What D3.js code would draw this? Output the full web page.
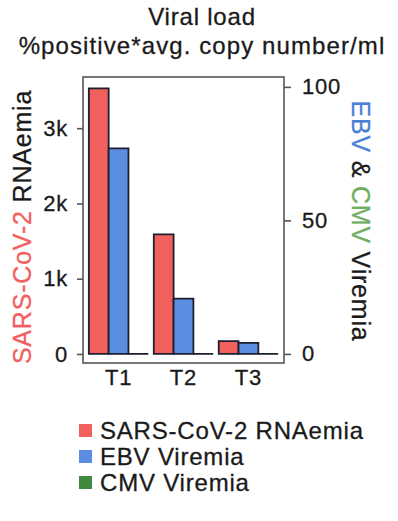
<!DOCTYPE html>
<html>
<head>
<meta charset="utf-8">
<script src="https://cdn.jsdelivr.net/npm/d3@7"></script>
<style>
  body { margin: 0; background: #fff; }
  text { font-family: "Liberation Sans", Arial, Helvetica, sans-serif; }
</style>
</head>
<body>
<div id="chart"></div>
<script>
(function () {
    var width = 398,
        height = 521;

    // data
    var timepoints = ["T1", "T2", "T3"];
    var series = ["SARS-CoV-2 RNAemia", "EBV Viremia", "CMV Viremia"];
    var sarsValues = [3530, 1590, 170];   // left axis
    var ebvValues = [77, 20.7, 4.1];      // right axis
    var cmvValues = [0, 0, 0];            // right axis
    var leftTicks = [0, 1000, 2000, 3000];
    var leftTickLabels = ["0", "1k", "2k", "3k"];
    var rightTicks = [0, 50, 100];

    var colors = { sars: "#f2605d", ebv: "#5b8de3", cmv: "#3f8a3f" };

    var panel = { left: 83, right: 284, top: 77, bottom: 363 };

    var svg = d3.select("#chart")
        .append("svg")
        .attr("width", width)
        .attr("height", height);

    var yLeft = d3.scaleLinear().domain([-120, 3680]).range([panel.bottom, panel.top]);
    var yRight = d3.scaleLinear().domain([-3.4, 103.7]).range([panel.bottom, panel.top]);

    var x0 = d3.scaleBand().domain(timepoints)
        .range([panel.left, panel.right])
        .paddingInner(0.085).paddingOuter(0.09);
    var x1 = d3.scaleBand().domain(["sars", "ebv", "cmv"])
        .range([0, x0.bandwidth()]);

    var rows = timepoints.map(function (t, i) {
        return [
            { t: t, key: "sars", v: sarsValues[i], y: yLeft },
            { t: t, key: "ebv", v: ebvValues[i], y: yRight },
            { t: t, key: "cmv", v: cmvValues[i], y: yRight }
        ];
    });

    // title
    svg.append("text")
        .attr("x", 202).attr("y", 25)
        .attr("text-anchor", "middle")
        .attr("font-size", 24).attr("letter-spacing", 0.8)
        .attr("fill", "#1a1a1a").attr("stroke", "#1a1a1a").attr("stroke-width", 0.3)
        .text("Viral load");
    svg.append("text")
        .attr("x", 202).attr("y", 54)
        .attr("text-anchor", "middle")
        .attr("font-size", 24).attr("letter-spacing", 1.1)
        .attr("fill", "#1a1a1a").attr("stroke", "#1a1a1a").attr("stroke-width", 0.3)
        .text("%positive*avg. copy number/ml");

    // bars
    var groups = svg.selectAll(".grp")
        .data(rows)
        .enter().append("g")
        .attr("class", "grp")
        .attr("transform", function (d) { return "translate(" + x0(d[0].t) + ",0)"; });

    groups.selectAll("path")
        .data(function (d) { return d; })
        .enter().append("path")
        .attr("d", function (d) {
            var xa = x1(d.key), xb = xa + x1.bandwidth();
            var y0 = d.y(0), y1 = d.y(d.v);
            return "M" + xa + "," + y0 + "V" + y1 + "H" + xb + "V" + y0 + "Z";
        })
        .attr("fill", function (d) { return colors[d.key]; })
        .attr("stroke", "#1c1f30")
        .attr("stroke-width", 1.8);

    // panel border
    svg.append("rect")
        .attr("x", panel.left).attr("y", panel.top)
        .attr("width", panel.right - panel.left)
        .attr("height", panel.bottom - panel.top)
        .attr("fill", "none")
        .attr("stroke", "#555")
        .attr("stroke-width", 1.6);

    // left axis
    var leftAxis = svg.append("g")
        .attr("transform", "translate(" + panel.left + ",0)")
        .call(d3.axisLeft(yLeft).tickValues(leftTicks)
            .tickFormat(function (d, i) { return leftTickLabels[i]; })
            .tickSize(6).tickPadding(9));
    // right axis
    var rightAxis = svg.append("g")
        .attr("transform", "translate(" + panel.right + ",0)")
        .call(d3.axisRight(yRight).tickValues(rightTicks)
            .tickSize(7).tickPadding(11));
    // bottom axis
    var bottomAxis = svg.append("g")
        .attr("transform", "translate(0," + panel.bottom + ")")
        .call(d3.axisBottom(x0).tickSize(0).tickPadding(6));

    [leftAxis, rightAxis, bottomAxis].forEach(function (a) {
        a.select(".domain").remove();
        a.selectAll(".tick line").attr("stroke", "#555").attr("stroke-width", 1.6);
        a.selectAll(".tick text")
            .attr("fill", "#1a1a1a")
            .attr("stroke", "#1a1a1a").attr("stroke-width", 0.3)
            .attr("font-size", 22)
            .attr("letter-spacing", 0.8)
            .attr("font-family", "'Liberation Sans', Arial, sans-serif");
    });

    // axis titles
    var lt = svg.append("text")
        .attr("transform", "translate(31,227) rotate(-90)")
        .attr("text-anchor", "middle")
        .attr("font-size", 25).attr("letter-spacing", 0.8)
        .attr("stroke-width", 0.3);
    lt.append("tspan").attr("fill", "#f2605d").attr("stroke", "#f2605d").text("SARS-CoV-2");
    lt.append("tspan").attr("fill", "#1a1a1a").attr("stroke", "#1a1a1a").text(" RNAemia");

    var rt = svg.append("text")
        .attr("transform", "translate(352,221) rotate(90)")
        .attr("text-anchor", "middle")
        .attr("font-size", 25).attr("letter-spacing", 0.8)
        .attr("stroke-width", 0.3);
    rt.append("tspan").attr("fill", "#4a7fd8").attr("stroke", "#4a7fd8").text("EBV");
    rt.append("tspan").attr("fill", "#1a1a1a").attr("stroke", "#1a1a1a").text(" & ");
    rt.append("tspan").attr("fill", "#6fae62").attr("stroke", "#6fae62").text("CMV");
    rt.append("tspan").attr("fill", "#1a1a1a").attr("stroke", "#1a1a1a").text(" Viremia");

    // legend
    var legend = svg.selectAll(".legend")
        .data(series)
        .enter().append("g")
        .attr("class", "legend")
        .attr("transform", function (d, i) { return "translate(79," + (424 + i * 26) + ")"; });

    legend.append("rect")
        .attr("width", 13).attr("height", 13)
        .attr("fill", function (d, i) { return [colors.sars, colors.ebv, colors.cmv][i]; });

    legend.append("text")
        .attr("x", 21).attr("y", 15)
        .attr("font-size", 24).attr("letter-spacing", 0.8)
        .attr("fill", "#1a1a1a").attr("stroke", "#1a1a1a").attr("stroke-width", 0.3)
        .text(function (d) { return d; });
})();
</script>
</body>
</html>
